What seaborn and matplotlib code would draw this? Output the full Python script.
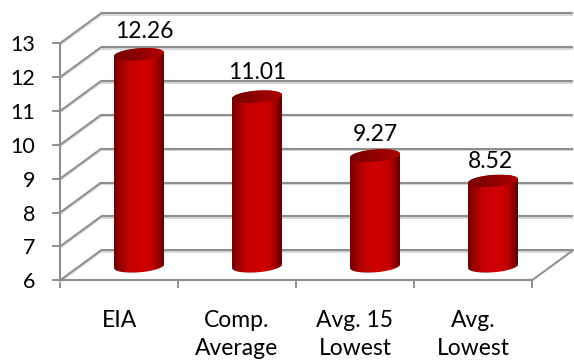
import numpy as np
import pandas as pd
import matplotlib
matplotlib.use("Agg")
import matplotlib.pyplot as plt
from matplotlib.colors import LinearSegmentedColormap
from matplotlib.patches import Polygon
import seaborn as sns

# Chart values
categories = ["EIA", "Comp.\nAverage", "Avg. 15\nLowest", "Avg.\nLowest"]
values = [12.26, 11.01, 9.27, 8.52]
y_ticks = [6, 7, 8, 9, 10, 11, 12, 13]

# Layout of the pseudo-3D box, in pixels
W, H = 574, 364
LEFT, RIGHT, FLOOR, TOP = 60.0, 532.0, 280.3, 43.3
SLOT_PX = (RIGHT - LEFT) / len(categories)
UNIT_PX = (FLOOR - TOP) / (y_ticks[-1] - y_ticks[0])
DEPTH_X, DEPTH_Y = 41.0, 30.0
BAR_X, BAR_Y = 20.0, 14.0
BAR_WIDTH_PX = 50.0
CAP_RY, TILT = 6.0, np.deg2rad(4.5)

# Per-label nudges for the value captions, in pixels
label_dx = [5, 0, 0, -3]
label_dy = [23, 24, 21, 19]

sns.set_theme(style="white")
plt.rcParams["font.family"] = ["Lato", "DejaVu Sans"]
GRID = "#8e8e8e"
SHADOW = "#d4d4d4"

fig = plt.figure(figsize=(W / 100, H / 100), dpi=100, facecolor="white")


def box(left_px, floor_px):
    return [left_px / W, 1 - floor_px / H, (RIGHT - LEFT) / W, (FLOOR - TOP) / H]


ax = fig.add_axes(box(LEFT, FLOOR))
bar_ax = fig.add_axes(box(LEFT + BAR_X, FLOOR - BAR_Y), facecolor="none")
xlim = (-0.5, len(categories) - 0.5)
ylim = (y_ticks[0], y_ticks[-1])

# Walls and floor: back gridlines, side-wall diagonals, front axis
dx, dy = DEPTH_X / SLOT_PX, DEPTH_Y / UNIT_PX
shadow_dy = 1.6 / UNIT_PX
for tick in y_ticks:
    ax.plot([xlim[0] + dx, xlim[1] + dx], [tick + dy - shadow_dy] * 2, color=SHADOW,
            lw=1.3, clip_on=False, zorder=1, solid_capstyle="butt")
    ax.plot([xlim[0] + dx, xlim[1] + dx], [tick + dy] * 2, color=GRID,
            lw=1.5, clip_on=False, zorder=2, solid_capstyle="butt")
    ax.plot([xlim[0], xlim[0] + dx], [tick - shadow_dy, tick + dy - shadow_dy], color=SHADOW,
            lw=1.3, clip_on=False, zorder=1)
    ax.plot([xlim[0], xlim[0] + dx], [tick, tick + dy], color=GRID,
            lw=1.4, clip_on=False, zorder=2)
ax.plot([xlim[1], xlim[1] + dx], [y_ticks[0], y_ticks[0] + dy], color=GRID,
        lw=1.4, clip_on=False, zorder=2)

ax.set_xlim(xlim)
ax.set_ylim(ylim)
ax.patch.set_visible(False)
for side in ("top", "right"):
    ax.spines[side].set_visible(False)
for side in ("left", "bottom"):
    ax.spines[side].set_color(GRID)
    ax.spines[side].set_linewidth(1.5)
ax.set_yticks(y_ticks)
ax.set_xticks(np.arange(len(categories) + 1) - 0.5, labels=[""] * (len(categories) + 1))
ax.set_xticks(np.arange(len(categories)), labels=categories, minor=True)
ax.tick_params(axis="y", which="major", left=True, length=5.8, width=1.4, color=GRID,
               pad=12, labelsize=15.5, labelcolor="black")
ax.tick_params(axis="x", which="major", bottom=True, length=5.6, width=1.4, color=GRID)
ax.tick_params(axis="x", which="minor", bottom=False, length=0, pad=21.5,
               labelsize=16.5, labelcolor="black")
for label in ax.get_xticklabels(minor=True):
    label.set_linespacing(1.42)
    label.set_verticalalignment("top")

# Bars
frame = pd.DataFrame({"category": categories, "value": values})
sns.barplot(data=frame, x="category", y="value", ax=bar_ax, color="#c00000",
            width=BAR_WIDTH_PX / SLOT_PX, saturation=1, linewidth=0, legend=False)
bar_ax.set_xlim(xlim)
bar_ax.set_ylim(ylim)
bar_ax.set_axis_off()

body_cmap = LinearSegmentedColormap.from_list(
    "body", [(0.0, "#6e0000"), (0.12, "#9c0000"), (0.30, "#c40000"), (0.58, "#d20000"),
             (0.80, "#bb0000"), (0.93, "#800000"), (1.0, "#5c0000")])
cap_cmap = LinearSegmentedColormap.from_list(
    "cap", [(0.0, "#7a0000"), (0.45, "#8c0000"), (0.75, "#a00000"), (1.0, "#b00000")])
ramp = np.linspace(0, 1, 256)[None, :]


def ellipse(cx, cy, start, stop, n=60):
    t = np.linspace(start, stop, n)
    u = BAR_WIDTH_PX / 2 * np.cos(t)
    v = CAP_RY * np.sin(t)
    px = u * np.cos(TILT) - v * np.sin(TILT)
    py = u * np.sin(TILT) + v * np.cos(TILT)
    return np.column_stack([cx + px / SLOT_PX, cy + py / UNIT_PX])


def shaded(points, cmap, zorder):
    mask = Polygon(points, closed=True, transform=bar_ax.transData, fc="none", ec="none")
    bar_ax.add_patch(mask)
    x0, x1 = points[:, 0].min(), points[:, 0].max()
    y0, y1 = points[:, 1].min(), points[:, 1].max()
    img = bar_ax.imshow(ramp, cmap=cmap, aspect="auto", extent=(x0, x1, y0, y1),
                        interpolation="bilinear", zorder=zorder)
    img.set_clip_box(fig.bbox)
    img.set_clip_path(mask)
    return mask


for i, bar in enumerate(bar_ax.patches):
    cx = bar.get_x() + bar.get_width() / 2
    top = bar.get_height()
    base = ylim[0]
    outline = np.vstack([ellipse(cx, top, np.pi, 0), ellipse(cx, base, 0, -np.pi)])
    mask = shaded(outline, body_cmap, 3)
    bar.set_clip_path(mask)
    shaded(ellipse(cx, top, 0, 2 * np.pi), cap_cmap, 4)
    bar_ax.annotate(f"{top:.2f}", (cx, top), xytext=(label_dx[i] * 0.72, label_dy[i] * 0.72),
                    textcoords="offset points", ha="center", va="center",
                    fontsize=16.5, color="black", annotation_clip=False, zorder=6)
bar_ax.set_xlim(xlim)
bar_ax.set_ylim(ylim)

fig.savefig("out.png", dpi=100, facecolor="white")
